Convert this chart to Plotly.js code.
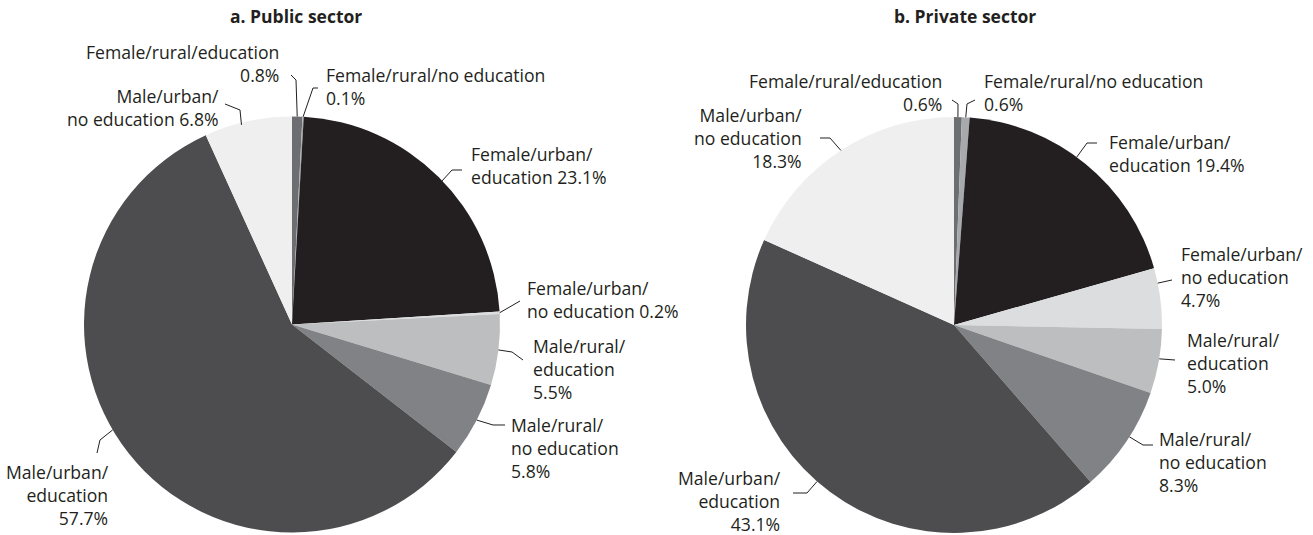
<!DOCTYPE html>
<html>
<head>
<meta charset="utf-8">
<script src="https://cdn.plot.ly/plotly-3.0.1.min.js"></script>
<style>html,body{margin:0;padding:0;background:#fff;}#chart{width:1313px;height:535px;}</style>
</head>
<body>
<div id="chart"></div>
<script>
// ---- data ----
var categories = [
  "Female/rural/education",
  "Female/rural/no education",
  "Female/urban/education",
  "Female/urban/no education",
  "Male/rural/education",
  "Male/rural/no education",
  "Male/urban/education",
  "Male/urban/no education"
];
var publicValues  = [0.8, 0.1, 23.1, 0.2, 5.5, 5.8, 57.7, 6.8];
var privateValues = [0.6, 0.6, 19.4, 4.7, 5.0, 8.3, 43.1, 18.3];
var sliceColors = ["#6d6e71", "#a7a9ac", "#231f20", "#dcddde", "#bcbec0", "#808285", "#4d4d4f", "#efefef"];
var panelTitles = ["a. Public sector", "b. Private sector"];

// label text (line breaks as in the reference)
var publicLabelText = [
  "Female/rural/education<br>0.8%",
  "Female/rural/no education<br>0.1%",
  "Female/urban/<br>education 23.1%",
  "Female/urban/<br>no education 0.2%",
  "Male/rural/<br>education<br>5.5%",
  "Male/rural/<br>no education<br>5.8%",
  "Male/urban/<br>education<br>57.7%",
  "Male/urban/<br>no education 6.8%"
];
var privateLabelText = [
  "Female/rural/education<br>0.6%",
  "Female/rural/no education<br>0.6%",
  "Female/urban/<br>education 19.4%",
  "Female/urban/<br>no education<br>4.7%",
  "Male/rural/<br>education<br>5.0%",
  "Male/rural/<br>no education<br>8.3%",
  "Male/urban/<br>education<br>43.1%",
  "Male/urban/<br>no education<br>18.3%"
];

// ---- layout helpers (pixels) ----
var W = 1313, H = 535;
var pies = [
  {cx: 292, cy: 324.5, r: 208, values: publicValues, texts: publicLabelText,
   labels: [
     {x: 281, y: 64,  side: "right", pts: [[291,75],[296,80]],  t: 0.5,  rf: 1},
     {x: 324, y: 87,  side: "left",  pts: [[318,88],[313,88]],  t: 0.5,  rf: 1},
     {x: 469, y: 166, side: "left",  pts: [[462,170],[452,170]], t: 0.518, rf: 0.985},
     {x: 525, y: 299, side: "left",  pts: [[520,301]],          t: 0.5,  rf: 1},
     {x: 531, y: 369, side: "left",  pts: [[523,360],[512,352]], t: 0.5,  rf: 1},
     {x: 509, y: 448, side: "left",  pts: [[505,425],[493,425]], t: 0.5,  rf: 1},
     {x: 111, y: 495, side: "right", pts: [[97,453],[100,440]],  t: 0.538, rf: 1},
     {x: 221, y: 108, side: "right", pts: [[225,104],[240,110]], t: 0.42, rf: 0.99}
   ]},
  {cx: 954, cy: 325, r: 208, values: privateValues, texts: privateLabelText,
   labels: [
     {x: 944, y: 92,  side: "right", pts: [[952,100],[958,104]], t: 0.5,  rf: 1},
     {x: 982, y: 92.5,side: "left",  pts: [[975,100],[967,104]], t: 0.5,  rf: 1},
     {x: 1107,y: 153, side: "left",  pts: [[1097,143],[1087,143]], t: 0.456, rf: 1},
     {x: 1179,y: 277, side: "left",  pts: [[1172,280]],          t: 0.25, rf: 1},
     {x: 1185,y: 363, side: "left",  pts: [[1175,360]],          t: 0.46, rf: 1},
     {x: 1157,y: 462, side: "left",  pts: [[1153,445],[1143,445]], t: 0.45, rf: 1},
     {x: 783, y: 501, side: "right", pts: [[793,493],[807,493]], t: 0.53, rf: 1},
     {x: 804, y: 138, side: "right", pts: [[820,138],[830,138]], t: 0.50, rf: 1}
   ]}
];
var titlePos = [[296, 16], [965, 16]];

function px(x){ return x / W; }
function py(y){ return 1 - y / H; }

var traces = [], annotations = [], shapes = [];
var font = "Open Sans, Noto Sans, sans-serif";
var ink = "#231f20";

pies.forEach(function(p, k){
  traces.push({
    type: "pie",
    labels: categories,
    values: p.values,
    sort: false,
    direction: "clockwise",
    rotation: 0,
    textinfo: "none",
    hoverinfo: "label+percent",
    marker: {colors: sliceColors, line: {width: 0}},
    showlegend: false,
    domain: {x: [px(p.cx - p.r), px(p.cx + p.r)], y: [py(p.cy + p.r), py(p.cy - p.r)]}
  });
  var total = p.values.reduce(function(a,b){return a+b;}, 0);
  var cum = 0;
  p.values.forEach(function(v, i){
    var a0 = cum / total * 360, a1 = (cum + v) / total * 360;
    cum += v;
    var L = p.labels[i];
    var ang = (a0 + L.t * (a1 - a0)) * Math.PI / 180;
    var ex = p.cx + p.r * L.rf * Math.sin(ang);
    var ey = p.cy - p.r * L.rf * Math.cos(ang);
    var all = L.pts.concat([[ex, ey]]);
    var path = all.map(function(q, j){ return (j ? "L" : "M") + px(q[0]).toFixed(5) + "," + py(q[1]).toFixed(5); }).join(" ");
    shapes.push({type: "path", xref: "paper", yref: "paper", path: path, line: {color: ink, width: 1}});
    annotations.push({
      xref: "paper", yref: "paper", x: px(L.x), y: py(L.y),
      xanchor: L.side === "left" ? "left" : "right", yanchor: "middle",
      align: L.side, showarrow: false, text: p.texts[i],
      font: {family: font, size: 17.6, color: ink}
    });
  });
  annotations.push({
    xref: "paper", yref: "paper", x: px(titlePos[k][0]), y: py(titlePos[k][1]),
    xanchor: "center", yanchor: "middle", showarrow: false,
    text: "<b>" + panelTitles[k] + "</b>",
    font: {family: font, size: 17.5, color: ink}
  });
});

var layout = {
  width: W, height: H,
  margin: {l: 0, r: 0, t: 0, b: 0},
  paper_bgcolor: "#ffffff",
  plot_bgcolor: "#ffffff",
  showlegend: false,
  annotations: annotations,
  shapes: shapes
};
Plotly.newPlot("chart", traces, layout, {displayModeBar: false, staticPlot: true});
</script>
</body>
</html>
